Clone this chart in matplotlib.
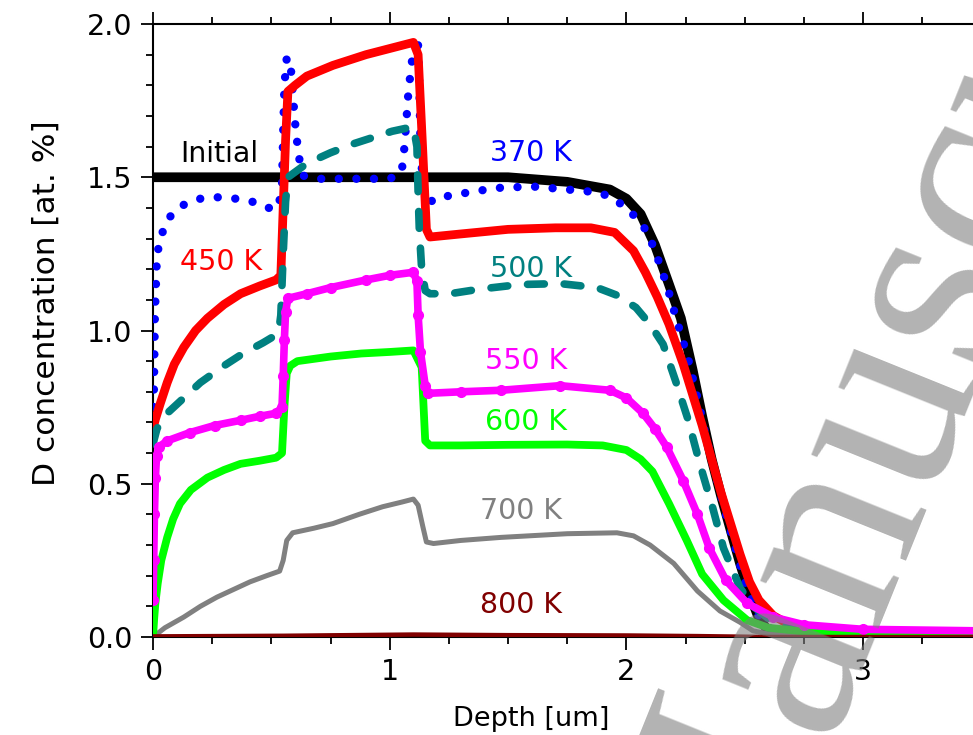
import numpy as np
import matplotlib.pyplot as plt
from matplotlib.ticker import MultipleLocator

plt.rcParams['font.family'] = ['DejaVu Sans']

# Initial profile
x_init = [0, 0.5, 1.0, 1.5, 1.75, 1.93, 2.0, 2.06, 2.12, 2.18, 2.23, 2.28, 2.32, 2.36,
          2.40, 2.44, 2.48, 2.52, 2.56, 2.60, 2.66, 3.0, 3.5]
y_init = [1.5, 1.5, 1.5, 1.5, 1.485, 1.46, 1.43, 1.38, 1.28, 1.15, 1.04, 0.87, 0.72, 0.58,
          0.46, 0.35, 0.24, 0.14, 0.06, 0.02, 0.005, 0.0, 0.0]

# 370 K
x_370 = [0.003, 0.008, 0.017, 0.04, 0.07, 0.13, 0.20, 0.28, 0.35, 0.42, 0.48, 0.53,
         0.545, 0.55, 0.555, 0.565, 0.58, 0.59, 0.60, 0.615, 0.635, 0.70, 0.85, 1.0,
         1.05, 1.06, 1.07, 1.08, 1.09, 1.105, 1.12, 1.125, 1.13, 1.14, 1.18, 1.25, 1.33,
         1.45, 1.6, 1.75, 1.89, 1.965, 2.04, 2.09, 2.13, 2.17, 2.21, 2.26, 2.30, 2.34,
         2.38, 2.42, 2.46, 2.50, 2.55, 2.60, 2.7, 3.0, 3.5]
y_370 = [0.75, 1.05, 1.25, 1.32, 1.37, 1.41, 1.43, 1.435, 1.43, 1.42, 1.40, 1.40,
         1.48, 1.65, 1.80, 1.89, 1.88, 1.78, 1.68, 1.57, 1.505, 1.495, 1.495, 1.495,
         1.515, 1.58, 1.68, 1.79, 1.85, 1.96, 1.93, 1.80, 1.60, 1.47, 1.42, 1.44, 1.45,
         1.465, 1.47, 1.46, 1.45, 1.42, 1.37, 1.32, 1.24, 1.15, 1.04, 0.91, 0.78, 0.64,
         0.52, 0.40, 0.29, 0.18, 0.08, 0.03, 0.008, 0.003, 0.003]

# 450 K
x_450 = [0, 0.01, 0.03, 0.06, 0.09, 0.13, 0.18, 0.23, 0.30, 0.37, 0.45, 0.52, 0.54,
         0.55, 0.56, 0.57, 0.60, 0.65, 0.76, 0.90, 1.00, 1.10, 1.12, 1.14, 1.155, 1.17,
         1.3, 1.5, 1.7, 1.85, 1.95, 2.03, 2.08, 2.13, 2.18, 2.24, 2.28, 2.32, 2.36, 2.40,
         2.44, 2.48, 2.52, 2.56, 2.62, 2.70, 2.8, 3.0, 3.5]
y_450 = [0.68, 0.71, 0.76, 0.83, 0.89, 0.945, 1.0, 1.04, 1.085, 1.12, 1.145, 1.165, 1.18,
         1.40, 1.62, 1.78, 1.80, 1.83, 1.865, 1.90, 1.92, 1.94, 1.90, 1.58, 1.33, 1.305,
         1.315, 1.33, 1.335, 1.335, 1.32, 1.26, 1.19, 1.11, 1.02, 0.89, 0.79, 0.69, 0.58, 0.47,
         0.37, 0.27, 0.18, 0.12, 0.07, 0.035, 0.02, 0.01, 0.01]

# 500 K
x_500 = [0, 0.017, 0.06, 0.13, 0.20, 0.30, 0.38, 0.465, 0.53, 0.54, 0.55, 0.56, 0.57,
         0.65, 0.75, 0.85, 0.95, 1.01, 1.07, 1.10, 1.115, 1.12, 1.125, 1.135, 1.15, 1.17,
         1.255, 1.38, 1.55, 1.72, 1.875, 1.96, 2.04, 2.10, 2.155, 2.21, 2.26, 2.31, 2.365,
         2.41, 2.48, 2.535, 2.6, 2.7, 2.85, 3.0, 3.5]
y_500 = [0.63, 0.68, 0.73, 0.78, 0.83, 0.885, 0.925, 0.96, 0.99, 1.05, 1.25, 1.42, 1.50,
         1.545, 1.58, 1.61, 1.635, 1.65, 1.66, 1.665, 1.60, 1.45, 1.33, 1.20, 1.13, 1.12,
         1.12, 1.135, 1.15, 1.153, 1.14, 1.115, 1.075, 1.02, 0.955, 0.83, 0.71, 0.565, 0.42,
         0.29, 0.16, 0.10, 0.06, 0.03, 0.015, 0.01, 0.01]

# 550 K
x_550 = [0, 0.003, 0.006, 0.01, 0.015, 0.025, 0.06, 0.156, 0.26, 0.37, 0.45, 0.52,
         0.545, 0.55, 0.555, 0.56, 0.57, 0.65, 0.75, 0.90, 1.00, 1.10, 1.115, 1.12, 1.13,
         1.15, 1.16, 1.3, 1.47, 1.72, 1.93, 2.0, 2.07, 2.12, 2.17, 2.24, 2.30, 2.35, 2.42,
         2.51, 2.62, 2.75, 3.0, 3.5]
y_550 = [0.12, 0.25, 0.40, 0.52, 0.59, 0.62, 0.64, 0.667, 0.69, 0.707, 0.72, 0.73,
         0.75, 0.85, 0.97, 1.06, 1.105, 1.12, 1.14, 1.165, 1.18, 1.19, 1.16, 1.05, 0.93,
         0.82, 0.795, 0.80, 0.805, 0.82, 0.805, 0.78, 0.73, 0.68, 0.62, 0.51, 0.40, 0.29,
         0.185, 0.11, 0.065, 0.04, 0.025, 0.02]

# 600 K
x_600 = [0, 0.005, 0.01, 0.02, 0.035, 0.06, 0.085, 0.114, 0.16, 0.23, 0.30, 0.37, 0.45,
         0.52, 0.545, 0.555, 0.565, 0.58, 0.61, 0.75, 0.88, 1.00, 1.10, 1.135, 1.15, 1.17,
         1.3, 1.5, 1.75, 1.9, 2.0, 2.06, 2.11, 2.18, 2.255, 2.32, 2.41, 2.51, 2.6, 2.75,
         3.0, 3.5]
y_600 = [0.0, 0.06, 0.11, 0.175, 0.25, 0.325, 0.385, 0.435, 0.48, 0.52, 0.545, 0.565,
         0.575, 0.585, 0.60, 0.75, 0.86, 0.885, 0.90, 0.915, 0.925, 0.93, 0.935, 0.88,
         0.64, 0.625, 0.625, 0.627, 0.628, 0.625, 0.61, 0.58, 0.54, 0.435, 0.315, 0.205,
         0.12, 0.055, 0.03, 0.018, 0.012, 0.01]

# 700 K
x_700 = [0, 0.05, 0.13, 0.2, 0.27, 0.34, 0.41, 0.48, 0.535, 0.55, 0.565, 0.59, 0.68,
         0.76, 0.87, 0.97, 1.05, 1.10, 1.12, 1.14, 1.155, 1.185, 1.3, 1.47, 1.75, 1.96,
         2.03, 2.10, 2.20, 2.30, 2.395, 2.48, 2.535, 2.6, 2.8, 3.5]
y_700 = [0.0, 0.03, 0.065, 0.10, 0.13, 0.155, 0.18, 0.20, 0.215, 0.25, 0.315, 0.34,
         0.355, 0.37, 0.40, 0.425, 0.44, 0.45, 0.43, 0.36, 0.31, 0.305, 0.315, 0.325,
         0.337, 0.34, 0.33, 0.30, 0.24, 0.15, 0.085, 0.048, 0.02, 0.01, 0.005, 0.003]

# 800 K
x_800 = [0, 0.55, 1.1, 1.5, 2.0, 2.3, 2.5, 2.6, 3.5]
y_800 = [0.002, 0.004, 0.008, 0.006, 0.005, 0.003, 0.001, 0.0, 0.0]

labels = ['Initial', '370 K', '450 K', '500 K', '550 K', '600 K', '700 K', '800 K']
label_x = [0.114, 1.424, 0.114, 1.424, 1.403, 1.403, 1.38, 1.38]
label_y = [1.577, 1.58, 1.222, 1.20, 0.90, 0.70, 0.41, 0.106]
colors = ['black', '#0000FF', '#FF0000', '#008080', '#FF00FF', '#00FF00', '#808080', '#800000']

fig = plt.figure(figsize=(9.73, 7.35), dpi=100)
ax = fig.add_axes([153 / 973, 98 / 735, 828.5 / 973, 613 / 735])

ax.plot(x_init, y_init, color=colors[0], lw=7, solid_capstyle='butt', zorder=2)
ax.plot(x_370, y_370, color=colors[1], lw=6, linestyle=(0, (0.01, 2.1)),
        dash_capstyle='round', zorder=3)
ax.plot(x_450, y_450, color=colors[2], lw=6.3, zorder=4)
ax.plot(x_500, y_500, color=colors[3], lw=5.5, linestyle=(0, (2.2, 2.6)),
        dash_capstyle='round', zorder=5)
ax.plot(x_700, y_700, color=colors[6], lw=3.6, zorder=6)
ax.plot(x_600, y_600, color=colors[5], lw=5.6, zorder=7)
ax.plot(x_550, y_550, color=colors[4], lw=5.5, marker='o', ms=7, zorder=8)
ax.plot(x_800, y_800, color=colors[7], lw=3.2, zorder=9)

for t, tx, ty, c in zip(labels, label_x, label_y, colors):
    ax.text(tx, ty, t, color=c, fontsize=20.5, ha='left', va='center')

ax.set_xlim(0, 3.5)
ax.set_ylim(0, 2.0)
ax.xaxis.set_major_locator(MultipleLocator(1))
ax.xaxis.set_minor_locator(MultipleLocator(0.25))
ax.yaxis.set_major_locator(MultipleLocator(0.5))
ax.yaxis.set_minor_locator(MultipleLocator(0.1))
ax.xaxis.set_major_formatter(plt.FuncFormatter(lambda v, p: f'{v:.0f}'))
ax.yaxis.set_major_formatter(plt.FuncFormatter(lambda v, p: f'{v:.1f}'))
ax.tick_params(which='both', direction='out', top=True, right=False, width=1.3,
               labelsize=20.5, pad=6)
ax.tick_params(which='major', length=9)
ax.tick_params(which='minor', length=5)
for s in ['left', 'bottom', 'top']:
    ax.spines[s].set_linewidth(1.5)
ax.spines['right'].set_visible(False)

ax.set_xlabel('Depth [um]', fontsize=19.5)
ax.xaxis.set_label_coords(1.6 / 3.5, -0.113)
ax.set_ylabel('D concentration [at. %]', fontsize=22.5)
ax.yaxis.set_label_coords(-0.111, 0.544)

# watermark
fig.text(733 / 973, 1 - 970 / 735, 'Manuscript', fontsize=200, family='Liberation Serif',
         color='gray', alpha=0.6, rotation=68, rotation_mode='anchor',
         ha='left', va='baseline', zorder=20)

fig.savefig('out.png', dpi=100)
